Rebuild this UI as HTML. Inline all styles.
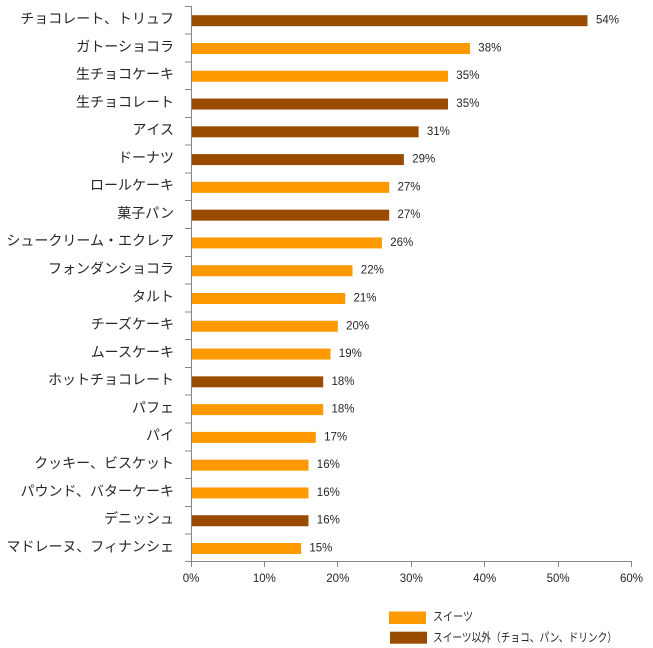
<!DOCTYPE html>
<html>
<head>
<meta charset="utf-8">
<style>
html,body{margin:0;padding:0;background:#fff;}
svg{display:block;}
.cat{font-family:"Liberation Sans","Noto Sans CJK JP",sans-serif;font-size:14px;fill:#262626;text-anchor:end;dominant-baseline:central;}
.val{font-family:"Liberation Sans","Noto Sans CJK JP",sans-serif;font-size:11.5px;fill:#262626;dominant-baseline:central;}
.tick{font-family:"Liberation Sans",sans-serif;font-size:11.5px;fill:#262626;text-anchor:middle;dominant-baseline:central;}
.leg{font-family:"Liberation Sans","Noto Sans CJK JP",sans-serif;font-size:12px;fill:#262626;dominant-baseline:central;}
</style>
</head>
<body>
<svg width="653" height="648" viewBox="0 0 653 648" xmlns="http://www.w3.org/2000/svg">
<rect width="653" height="648" fill="#fff"/>
<g id="rows">
<g transform="translate(0,0)"><text class="cat" x="174" y="18.5">チョコレート、トリュフ</text><rect x="191" y="15.2" width="396.5" height="11" fill="#994C00"/><text class="val" x="596" y="20.7">54%</text></g>
<g transform="translate(0,27.78)"><text class="cat" x="174" y="18.5">ガトーショコラ</text><rect x="191" y="15.2" width="279" height="11" fill="#FF9900"/><text class="val" x="478.3" y="20.7">38%</text></g>
<g transform="translate(0,55.56)"><text class="cat" x="174" y="18.5">生チョコケーキ</text><rect x="191" y="15.2" width="257" height="11" fill="#FF9900"/><text class="val" x="456.3" y="20.7">35%</text></g>
<g transform="translate(0,83.34)"><text class="cat" x="174" y="18.5">生チョコレート</text><rect x="191" y="15.2" width="257" height="11" fill="#994C00"/><text class="val" x="456.3" y="20.7">35%</text></g>
<g transform="translate(0,111.12)"><text class="cat" x="174" y="18.5">アイス</text><rect x="191" y="15.2" width="227.6" height="11" fill="#994C00"/><text class="val" x="426.9" y="20.7">31%</text></g>
<g transform="translate(0,138.9)"><text class="cat" x="174" y="18.5">ドーナツ</text><rect x="191" y="15.2" width="212.9" height="11" fill="#994C00"/><text class="val" x="412.2" y="20.7">29%</text></g>
<g transform="translate(0,166.68)"><text class="cat" x="174" y="18.5">ロールケーキ</text><rect x="191" y="15.2" width="198.2" height="11" fill="#FF9900"/><text class="val" x="397.5" y="20.7">27%</text></g>
<g transform="translate(0,194.46)"><text class="cat" x="174" y="18.5">菓子パン</text><rect x="191" y="15.2" width="198.2" height="11" fill="#994C00"/><text class="val" x="397.5" y="20.7">27%</text></g>
<g transform="translate(0,222.24)"><text class="cat" x="174" y="18.5">シュークリーム・エクレア</text><rect x="191" y="15.2" width="190.9" height="11" fill="#FF9900"/><text class="val" x="390.2" y="20.7">26%</text></g>
<g transform="translate(0,250.02)"><text class="cat" x="174" y="18.5">フォンダンショコラ</text><rect x="191" y="15.2" width="161.5" height="11" fill="#FF9900"/><text class="val" x="360.8" y="20.7">22%</text></g>
<g transform="translate(0,277.8)"><text class="cat" x="174" y="18.5">タルト</text><rect x="191" y="15.2" width="154.2" height="11" fill="#FF9900"/><text class="val" x="353.5" y="20.7">21%</text></g>
<g transform="translate(0,305.58)"><text class="cat" x="174" y="18.5">チーズケーキ</text><rect x="191" y="15.2" width="146.8" height="11" fill="#FF9900"/><text class="val" x="346.1" y="20.7">20%</text></g>
<g transform="translate(0,333.36)"><text class="cat" x="174" y="18.5">ムースケーキ</text><rect x="191" y="15.2" width="139.5" height="11" fill="#FF9900"/><text class="val" x="338.8" y="20.7">19%</text></g>
<g transform="translate(0,361.14)"><text class="cat" x="174" y="18.5">ホットチョコレート</text><rect x="191" y="15.2" width="132.2" height="11" fill="#994C00"/><text class="val" x="331.5" y="20.7">18%</text></g>
<g transform="translate(0,388.92)"><text class="cat" x="174" y="18.5">パフェ</text><rect x="191" y="15.2" width="132.2" height="11" fill="#FF9900"/><text class="val" x="331.5" y="20.7">18%</text></g>
<g transform="translate(0,416.7)"><text class="cat" x="174" y="18.5">パイ</text><rect x="191" y="15.2" width="124.8" height="11" fill="#FF9900"/><text class="val" x="324.1" y="20.7">17%</text></g>
<g transform="translate(0,444.48)"><text class="cat" x="174" y="18.5">クッキー、ビスケット</text><rect x="191" y="15.2" width="117.5" height="11" fill="#FF9900"/><text class="val" x="316.8" y="20.7">16%</text></g>
<g transform="translate(0,472.26)"><text class="cat" x="174" y="18.5">パウンド、バターケーキ</text><rect x="191" y="15.2" width="117.5" height="11" fill="#FF9900"/><text class="val" x="316.8" y="20.7">16%</text></g>
<g transform="translate(0,500.04)"><text class="cat" x="174" y="18.5">デニッシュ</text><rect x="191" y="15.2" width="117.5" height="11" fill="#994C00"/><text class="val" x="316.8" y="20.7">16%</text></g>
<g transform="translate(0,527.82)"><text class="cat" x="174" y="18.5">マドレーヌ、フィナンシェ</text><rect x="191" y="15.2" width="110.1" height="11" fill="#FF9900"/><text class="val" x="309.4" y="20.7">15%</text></g>
</g>

<!-- axes -->
<g stroke="#868686" stroke-width="1" fill="none" shape-rendering="crispEdges">
<line x1="191.5" y1="6" x2="191.5" y2="562"/>
<line x1="191" y1="561.5" x2="632" y2="561.5"/>
<!-- y ticks -->
<line x1="185" y1="6.5" x2="191" y2="6.5"/>
<line x1="185" y1="34" x2="191" y2="34"/>
<line x1="185" y1="61.8" x2="191" y2="61.8"/>
<line x1="185" y1="89.6" x2="191" y2="89.6"/>
<line x1="185" y1="117.4" x2="191" y2="117.4"/>
<line x1="185" y1="145.2" x2="191" y2="145.2"/>
<line x1="185" y1="173" x2="191" y2="173"/>
<line x1="185" y1="200.7" x2="191" y2="200.7"/>
<line x1="185" y1="228.5" x2="191" y2="228.5"/>
<line x1="185" y1="256.3" x2="191" y2="256.3"/>
<line x1="185" y1="284.1" x2="191" y2="284.1"/>
<line x1="185" y1="311.9" x2="191" y2="311.9"/>
<line x1="185" y1="339.6" x2="191" y2="339.6"/>
<line x1="185" y1="367.4" x2="191" y2="367.4"/>
<line x1="185" y1="395.2" x2="191" y2="395.2"/>
<line x1="185" y1="423" x2="191" y2="423"/>
<line x1="185" y1="450.8" x2="191" y2="450.8"/>
<line x1="185" y1="478.5" x2="191" y2="478.5"/>
<line x1="185" y1="506.3" x2="191" y2="506.3"/>
<line x1="185" y1="534.1" x2="191" y2="534.1"/>
<line x1="185" y1="561.5" x2="191" y2="561.5"/>
<!-- x ticks -->
<line x1="191.5" y1="561" x2="191.5" y2="567"/>
<line x1="264.5" y1="561" x2="264.5" y2="567"/>
<line x1="337.5" y1="561" x2="337.5" y2="567"/>
<line x1="411.5" y1="561" x2="411.5" y2="567"/>
<line x1="484.5" y1="561" x2="484.5" y2="567"/>
<line x1="558.5" y1="561" x2="558.5" y2="567"/>
<line x1="631.5" y1="561" x2="631.5" y2="567"/>
</g>

<text class="tick" x="191" y="579">0%</text>
<text class="tick" x="264.4" y="579">10%</text>
<text class="tick" x="337.8" y="579">20%</text>
<text class="tick" x="411.3" y="579">30%</text>
<text class="tick" x="484.7" y="579">40%</text>
<text class="tick" x="558.1" y="579">50%</text>
<text class="tick" x="631.5" y="579">60%</text>

<!-- legend -->
<rect x="389" y="611.5" width="37" height="12.5" fill="#FF9900"/>
<rect x="390" y="631.7" width="37" height="12" fill="#994C00"/>
<text class="leg" x="433" y="616.7" textLength="40" lengthAdjust="spacingAndGlyphs">スイーツ</text>
<text class="leg" x="433" y="637.3" textLength="184" lengthAdjust="spacingAndGlyphs">スイーツ以外（チョコ、パン、ドリンク）</text>
</svg>
</body>
</html>
